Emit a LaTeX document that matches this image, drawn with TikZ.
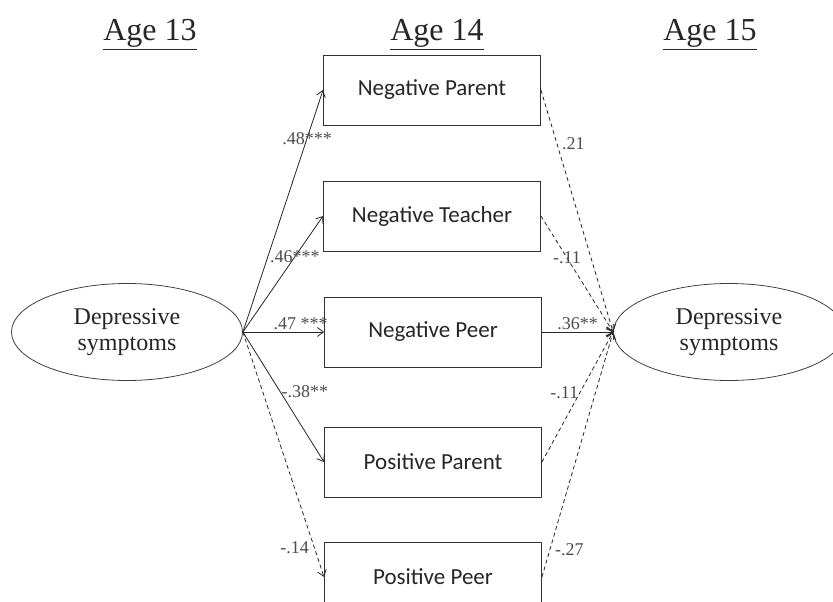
\documentclass[tikz,border=0pt]{standalone}
\usepackage{fontspec}
\setmainfont{Liberation Serif}
\newfontfamily\boxfont{Carlito}
\usetikzlibrary{shapes.geometric,arrows.meta}
\begin{document}
\begin{tikzpicture}[x=1pt,y=-1pt,>={Straight Barb[length=6pt,width=9pt]},
    box/.style={draw=black!80,line width=0.9pt,minimum width=217pt,minimum height=70pt,
      font=\boxfont\fontsize{23}{26}\selectfont,text=black!85},
    latent/.style={ellipse,draw=black!75,line width=0.8pt,minimum width=231pt,
      minimum height=97pt,inner sep=0pt,align=center,
      font=\fontsize{24}{26}\selectfont,text=black!85},
    eff/.style={->,line width=0.8pt,draw=black!85},
    nseff/.style={eff,dash pattern=on 4pt off 3pt},
    coef/.style={font=\fontsize{18}{20}\selectfont,text=black!70,inner sep=1pt},
    age/.style={font=\fontsize{32}{36}\selectfont,anchor=base,text=black!85}]
        \clip (0,0) rectangle (833,602);
        \node[age] (age13) at (150,41) {\underline{Age 13}};
        \node[age] (age14) at (437,41) {\underline{Age 14}};
        \node[age] (age15) at (710,41) {\underline{Age 15}};
        \node[latent] (dep13) at (127,332) {Depressive\\symptoms};
        \node[latent] (dep15) at (729,332) {Depressive\\symptoms};
        \node[box] (nparent) at (432,90) {Negative Parent};
        \node[box] (nteacher) at (432,216) {Negative Teacher};
        \node[box] (npeer) at (433,332) {Negative Peer};
        \node[box] (pparent) at (433,462) {Positive Parent};
        \node[box] (ppeer) at (433,577) {Positive Peer};
        \draw[eff] (dep13.east) -- node[coef,pos=0.8] {.48***} (nparent.west);
        \draw[eff] (dep13.east) -- node[coef,pos=0.65] {.46***} (nteacher.west);
        \draw[eff] (dep13.east) -- node[coef,pos=0.71,yshift=8pt] {.47 ***} (npeer.west);
        \draw[eff] (dep13.east) -- node[coef,pos=0.46,anchor=west] {-.38**} (pparent.west);
        \draw[nseff] (dep13.east) -- node[coef,pos=0.88,anchor=east,xshift=-4pt] {-.14} (ppeer.west);
        \draw[nseff] (nparent.east) -- node[coef,pos=0.22,anchor=west,xshift=4pt] {.21} (dep15.west);
        \draw[nseff] (nteacher.east) -- node[coef,pos=0.36] {-.11} (dep15.west);
        \draw[eff] (npeer.east) -- node[coef,pos=0.5,yshift=8pt] {.36**} (dep15.west);
        \draw[nseff] (pparent.east) -- node[coef,pos=0.53,anchor=east] {-.11} (dep15.west);
        \draw[nseff] (ppeer.east) -- node[coef,pos=0.11,anchor=west,xshift=4pt] {-.27} (dep15.west);
    \end{tikzpicture}
\end{document}
